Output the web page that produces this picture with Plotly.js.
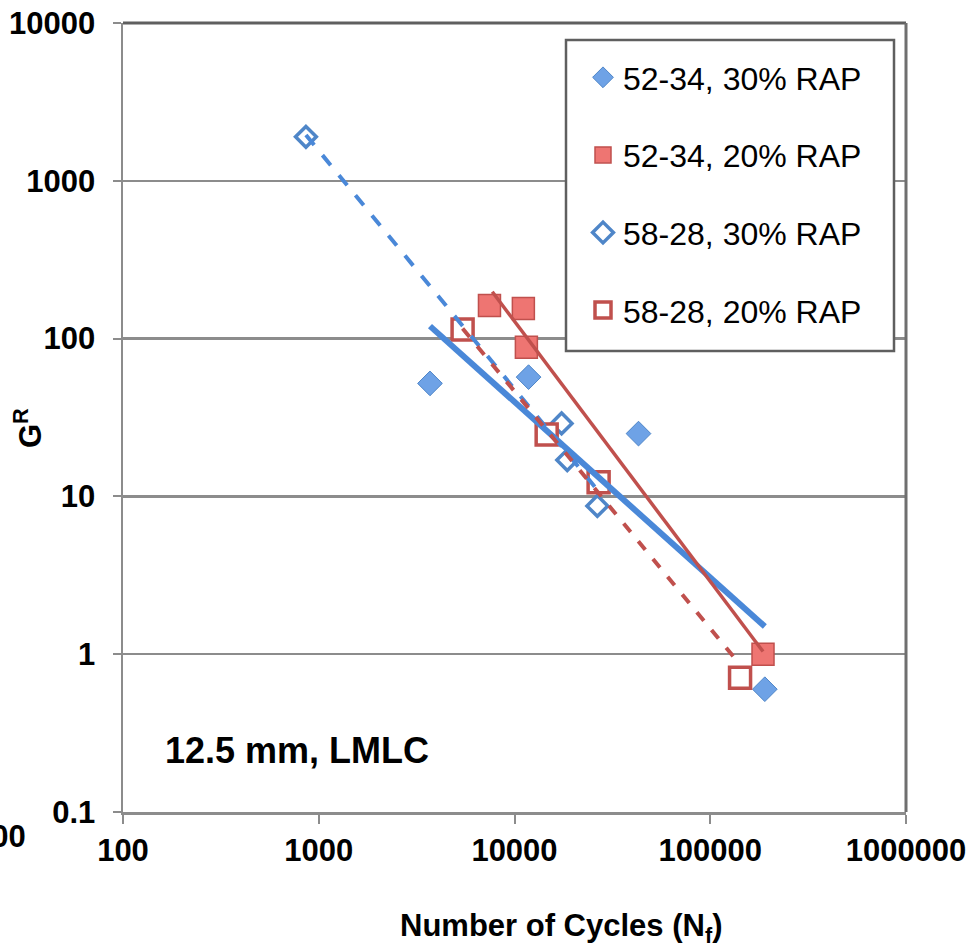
<!DOCTYPE html>
<html>
<head>
<meta charset="utf-8">
<script src="https://cdn.plot.ly/plotly-3.0.1.min.js"></script>
<style>html,body{margin:0;padding:0;background:#fff;}#chart{width:970px;height:952px;}</style>
</head>
<body>
<div id="chart"></div>
<script>
// ---- data ----
const seriesNames = ["52-34, 30% RAP", "52-34, 20% RAP", "58-28, 30% RAP", "58-28, 20% RAP"];

const cycles_52_34_30 = [3700, 11800, 43000, 190000];
const gr_52_34_30     = [52, 57, 25, 0.6];

const cycles_52_34_20 = [7450, 11100, 11500, 186000];
const gr_52_34_20     = [162, 155, 88, 1.0];

const cycles_58_28_30 = [860, 17400, 18600, 26500];
const gr_58_28_30     = [1900, 29, 17, 8.7];

const cycles_58_28_20 = [5430, 14600, 26900, 142000];
const gr_58_28_20     = [114, 24.7, 12.3, 0.71];

// power trend lines (end points)
const trend_52_34_30_x = [3700, 190000];
const trend_52_34_30_y = [120, 1.5];
const trend_52_34_20_x = [7700, 186000];
const trend_52_34_20_y = [198, 1.04];
const trend_58_28_30_x = [860, 26500];
const trend_58_28_30_y = [1950, 11];
const trend_58_28_20_x = [5430, 142000];
const trend_58_28_20_y = [116, 0.86];

const xTickVals = [100, 1000, 10000, 100000, 1000000];
const xTickText = ["100", "1000", "10000", "100000", "1000000"];
const yTickVals = [0.1, 1, 10, 100, 1000, 10000];
const yTickText = ["0.1", "1", "10", "100", "1000", "10000"];

// ---- styling ----
const FONT = "Liberation Sans, Arial, Helvetica, sans-serif";
const BLUE = "#4a88d8";
const RED = "#c0504d";

const traces = [
  {x: cycles_52_34_30, y: gr_52_34_30, name: seriesNames[0], mode: "markers", type: "scatter", legendgroup: "a",
   marker: {symbol: "diamond", size: 19, color: "#6ea2e6", line: {color: "#4f86c8", width: 1}}},
  {x: cycles_52_34_20, y: gr_52_34_20, name: seriesNames[1], mode: "markers", type: "scatter", legendgroup: "b",
   marker: {symbol: "square", size: 22, color: "#ee7572", line: {color: RED, width: 1.5}}},
  {x: cycles_58_28_30, y: gr_58_28_30, name: seriesNames[2], mode: "markers", type: "scatter", legendgroup: "c",
   marker: {symbol: "diamond", size: 16, color: "#ffffff", line: {color: "#4f86c8", width: 3.5}}},
  {x: cycles_58_28_20, y: gr_58_28_20, name: seriesNames[3], mode: "markers", type: "scatter", legendgroup: "d",
   marker: {symbol: "square", size: 21, color: "#ffffff", line: {color: RED, width: 3.5}}},
  {x: trend_52_34_30_x, y: trend_52_34_30_y, mode: "lines", type: "scatter", showlegend: false, hoverinfo: "skip",
   line: {color: BLUE, width: 6}},
  {x: trend_52_34_20_x, y: trend_52_34_20_y, mode: "lines", type: "scatter", showlegend: false, hoverinfo: "skip",
   line: {color: RED, width: 3.5}},
  {x: trend_58_28_30_x, y: trend_58_28_30_y, mode: "lines", type: "scatter", showlegend: false, hoverinfo: "skip",
   line: {color: BLUE, width: 4, dash: "13px,13px"}},
  {x: trend_58_28_20_x, y: trend_58_28_20_y, mode: "lines", type: "scatter", showlegend: false, hoverinfo: "skip",
   line: {color: RED, width: 4, dash: "11px,12px"}}
];

const W = 970, H = 952;
const L = 123, R = 64, T = 23, B = 140;
const pw = W - L - R, ph = H - T - B;
const px = v => (v - L) / pw;           // pixel -> paper x
const py = v => (H - B - v) / ph;        // pixel -> paper y

const layout = {
  width: W, height: H,
  margin: {l: L, r: R, t: T, b: B, pad: 0},
  paper_bgcolor: "#ffffff", plot_bgcolor: "#ffffff",
  font: {family: FONT, color: "#000"},
  showlegend: true,
  xaxis: {
    type: "log", range: [2, 6], tickvals: xTickVals, ticktext: xTickText,
    showgrid: false, zeroline: false,
    showline: true, linecolor: "#8c8c8c", linewidth: 2.5,
    ticks: "outside", ticklen: 9, tickwidth: 2, tickcolor: "#8c8c8c",
    tickfont: {family: FONT, size: 31, weight: "bold", color: "#000"},
    ticklabelstandoff: 0
  },
  yaxis: {
    type: "log", range: [-1, 4], tickvals: yTickVals, ticktext: yTickText,
    showgrid: true, gridcolor: "#8c8c8c", gridwidth: 2.5, zeroline: false,
    showline: true, linecolor: "#8c8c8c", linewidth: 2.5,
    ticks: "outside", ticklen: 8, tickwidth: 2, tickcolor: "#8c8c8c",
    tickfont: {family: FONT, size: 31, weight: "bold", color: "#000"},
    ticklabelstandoff: 11
  },
  legend: {
    x: px(583), y: py(50), xanchor: "left", yanchor: "top",
    bgcolor: "rgba(0,0,0,0)", borderwidth: 0,
    font: {family: FONT, size: 32, color: "#000"},
    tracegroupgap: 33, traceorder: "grouped", itemwidth: 30
  },
  shapes: [
    {type: "line", xref: "paper", yref: "paper", x0: 0, x1: 1, y0: 1, y1: 1, line: {color: "#5f5f5f", width: 3}},
    {type: "line", xref: "paper", yref: "paper", x0: 1, x1: 1, y0: 0, y1: 1, line: {color: "#6f6f6f", width: 3}},
    {type: "rect", xref: "paper", yref: "paper", x0: px(566), x1: px(894), y0: py(351), y1: py(40),
     fillcolor: "#ffffff", line: {color: "#5f5f5f", width: 2.5}, layer: "above"}
  ],
  annotations: [
    {xref: "paper", yref: "paper", x: px(28), y: py(428), text: "G<sup>R</sup>", showarrow: false, textangle: -90,
     xanchor: "center", yanchor: "middle", font: {family: FONT, size: 31, weight: "bold", color: "#000"}},
    {xref: "paper", yref: "paper", x: px(561), y: py(928), text: "Number of Cycles (N<sub>f</sub>)", showarrow: false,
     xanchor: "center", yanchor: "middle", font: {family: FONT, size: 31, weight: "bold", color: "#000"}},
    {xref: "paper", yref: "paper", x: px(297), y: py(750), text: "12.5 mm, LMLC", showarrow: false,
     xanchor: "center", yanchor: "middle", font: {family: FONT, size: 36, weight: "bold", color: "#000"}},
    {xref: "paper", yref: "paper", x: px(28), y: py(836), text: "100", showarrow: false,
     xanchor: "right", yanchor: "middle", font: {family: FONT, size: 31, weight: "bold", color: "#000"}}
  ]
};

Plotly.newPlot("chart", traces, layout, {displayModeBar: false, staticPlot: true});
</script>
</body>
</html>
